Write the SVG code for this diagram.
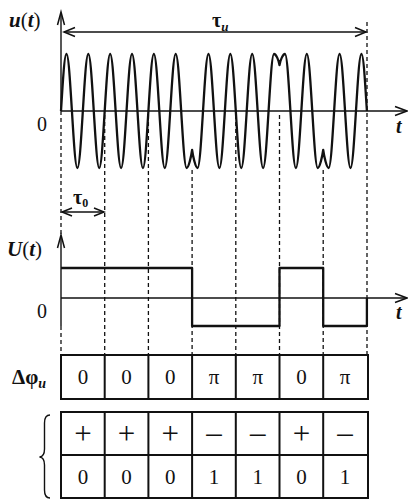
<svg xmlns="http://www.w3.org/2000/svg" width="408" height="500" viewBox="0 0 408 500">
<style>
.ax{stroke:#111;stroke-width:1.4;fill:none}
.ah{stroke:#111;stroke-width:1.5;fill:none;stroke-linejoin:miter}
.dash{stroke:#111;stroke-width:1.3;stroke-dasharray:4,3;fill:none}
.sig{stroke:#111;stroke-width:2.3;fill:none;stroke-linejoin:round}
.tb{stroke:#111;stroke-width:2;fill:none}
.lbl{font-family:"Liberation Serif",serif;fill:#111}
.bi{font-weight:bold;font-style:italic}
.cell{font-family:"Liberation Serif",serif;font-size:21px;fill:#111;text-anchor:middle}
.sign{font-family:"Liberation Serif",serif;font-size:31px;fill:#111;text-anchor:middle}
</style>
<rect width="408" height="500" fill="#fff"/>
<g id="grid">
<line class="dash" x1="61" y1="111" x2="61" y2="235"/>
<line class="dash" x1="61" y1="326" x2="61" y2="355"/>
<line class="dash" x1="104.7" y1="115" x2="104.7" y2="355"/>
<line class="dash" x1="148.4" y1="115" x2="148.4" y2="355"/>
<line class="dash" x1="192.1" y1="170" x2="192.1" y2="355"/>
<line class="dash" x1="235.8" y1="115" x2="235.8" y2="355"/>
<line class="dash" x1="279.5" y1="115" x2="279.5" y2="355"/>
<line class="dash" x1="323.2" y1="170" x2="323.2" y2="355"/>
<line class="dash" x1="367" y1="22" x2="367" y2="355"/>
</g>
<g id="top-axes">
<line class="ax" x1="61" y1="111" x2="61" y2="13"/>
<polyline class="ah" points="57.5,25 61,12 64.5,25"/>
<line class="ax" x1="61" y1="111" x2="406" y2="111"/>
<polyline class="ah" points="395,106.5 407,111 395,115.5"/>
<text class="lbl bi" x="9" y="27" font-size="21">u<tspan font-style="normal" font-weight="normal">(</tspan>t<tspan font-style="normal" font-weight="normal">)</tspan></text>
<text class="lbl" x="42" y="131" font-size="20" text-anchor="middle">0</text>
<text class="lbl bi" x="396" y="133" font-size="20">t</text>
</g>
<g id="tau-u">
<line class="ax" x1="64" y1="32" x2="366" y2="32"/>
<polyline class="ah" points="75,27.5 64,32 75,36.5"/>
<polyline class="ah" points="355,27.5 366,32 355,36.5"/>
<text class="lbl" x="212" y="27" font-size="20" font-weight="bold">τ<tspan class="bi" font-size="13" dy="4">и</tspan></text>
</g>
<g id="carrier">
<path class="sig" d="M61,111 c1.826,-29.93 3.496,-57 5.4625,-57
s3.636,27.07 5.4625,57 s3.496,57 5.4625,57 s3.636,-27.07 5.4625,-57 s3.496,-57 5.4625,-57
s3.636,27.07 5.4625,57 s3.496,57 5.4625,57 s3.636,-27.07 5.4625,-57 s3.496,-57 5.4625,-57
s3.636,27.07 5.4625,57 s3.496,57 5.4625,57 s3.636,-27.07 5.4625,-57 s3.496,-57 5.4625,-57
s3.636,27.07 5.4625,57 s3.496,57 5.4625,57 s3.636,-27.07 5.4625,-57 s3.496,-57 5.4625,-57
s3.636,27.07 5.4625,57 s3.496,57 5.4625,57 s3.636,-27.07 5.4625,-57 s3.496,-57 5.4625,-57
s3.636,27.07 5.4625,57 s3.496,57 5.4625,57
C188.6,168 191.3,156 192.1,150 C192.9,156 195.6,168 197.56,168
s3.636,-27.07 5.4625,-57 s3.496,-57 5.4625,-57
s3.636,27.07 5.4625,57 s3.496,57 5.4625,57 s3.636,-27.07 5.4625,-57 s3.496,-57 5.4625,-57
s3.636,27.07 5.4625,57 s3.496,57 5.4625,57 s3.636,-27.07 5.4625,-57 s3.496,-57 5.4625,-57
s3.636,27.07 5.4625,57 s3.496,57 5.4625,57 s3.636,-27.07 5.4625,-57 s3.496,-57 5.4625,-57
C276,54 278.7,60 279.5,65 C280.3,60 283,54 284.96,54
s3.636,27.07 5.4625,57 s3.496,57 5.4625,57 s3.636,-27.07 5.4625,-57 s3.496,-57 5.4625,-57
s3.636,27.07 5.4625,57 s3.496,57 5.4625,57
C319.7,168 322.4,156 323.2,150 C324,156 326.7,168 328.66,168
s3.636,-27.07 5.4625,-57 s3.496,-57 5.4625,-57
s3.636,27.07 5.4625,57 s3.496,57 5.4625,57 s3.636,-27.07 5.4625,-57 s3.496,-57 5.4625,-57
s3.636,27.07 5.4625,57"/>
</g>
<g id="tau-0">
<line class="ax" x1="62" y1="212" x2="104" y2="212"/>
<polyline class="ah" points="72,208 62,212 72,216"/>
<polyline class="ah" points="94,208 104,212 94,216"/>
<text class="lbl" x="73" y="204" font-size="20" font-weight="bold">τ<tspan font-size="12" dy="3">0</tspan></text>
</g>
<g id="bottom-axes">
<line class="ax" x1="61" y1="326" x2="61" y2="236"/>
<polyline class="ah" points="57.5,248 61,235 64.5,248"/>
<line class="ax" x1="61" y1="298" x2="406" y2="298"/>
<polyline class="ah" points="395,293.5 407,298 395,302.5"/>
<text class="lbl bi" x="7" y="256" font-size="21">U<tspan font-style="normal" font-weight="normal">(</tspan>t<tspan font-style="normal" font-weight="normal">)</tspan></text>
<text class="lbl" x="42" y="318" font-size="20" text-anchor="middle">0</text>
<text class="lbl bi" x="396" y="319" font-size="20">t</text>
</g>
<g id="envelope">
<path class="sig" d="M61,268 H192.1 V326 H279.5 V268 H323.2 V326 H366.9 V298"/>
</g>
<g id="phase-table">
<rect class="tb" x="61" y="355" width="307" height="44"/>
<path class="tb" d="M104.7,355V399M148.4,355V399M192.1,355V399M235.8,355V399M279.5,355V399M323.2,355V399"/>
<text class="lbl" x="12" y="384" font-size="21" font-weight="bold">Δφ<tspan class="bi" font-size="14" dy="4">и</tspan></text>
<text class="cell" x="82.9" y="384">0</text>
<text class="cell" x="126.6" y="384">0</text>
<text class="cell" x="170.3" y="384">0</text>
<text class="cell" x="214" y="384">π</text>
<text class="cell" x="257.7" y="384">π</text>
<text class="cell" x="301.4" y="384">0</text>
<text class="cell" x="345.1" y="384">π</text>
</g>
<g id="code-table">
<rect class="tb" x="61" y="412" width="307" height="86"/>
<path class="tb" d="M61,455H368M104.7,412V498M148.4,412V498M192.1,412V498M235.8,412V498M279.5,412V498M323.2,412V498"/>
<path class="ax" stroke-width="1.2" d="M50,415 Q44.5,415 44.5,423 L44.5,449 Q44.5,456.5 39.5,457 Q44.5,457.5 44.5,465 L44.5,490 Q44.5,498 50,498"/>
<text class="sign" x="82.9" y="444">+</text>
<text class="sign" x="126.6" y="444">+</text>
<text class="sign" x="170.3" y="444">+</text>
<text class="sign" x="214" y="443">–</text>
<text class="sign" x="257.7" y="443">–</text>
<text class="sign" x="301.4" y="444">+</text>
<text class="sign" x="345.1" y="443">–</text>
<text class="cell" x="82.9" y="484">0</text>
<text class="cell" x="126.6" y="484">0</text>
<text class="cell" x="170.3" y="484">0</text>
<text class="cell" x="214" y="484">1</text>
<text class="cell" x="257.7" y="484">1</text>
<text class="cell" x="301.4" y="484">0</text>
<text class="cell" x="345.1" y="484">1</text>
</g>
</svg>
